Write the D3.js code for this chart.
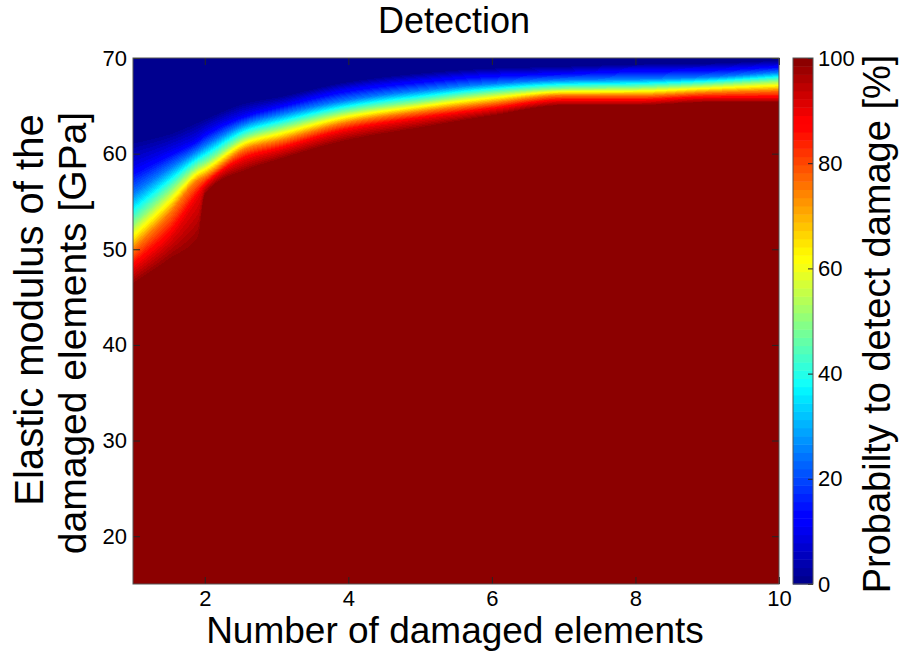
<!DOCTYPE html>
<html>
<head>
<meta charset="utf-8">
<script src="https://cdn.jsdelivr.net/npm/d3@7"></script>
<style>
    body { margin: 0; background: #fff; }
    svg text { font-family: "Liberation Sans", Arial, sans-serif; fill: #000; }
</style>
</head>
<body>
<svg id="chart" width="904" height="653"></svg>
<script>
// Detection probability map: number of damaged elements vs elastic modulus

// Positions along x (number of damaged elements) where the contour heights were read
const xRead = [1, 1.5, 1.9, 2, 2.6, 3, 4, 5, 6, 7, 8, 9, 10];

// Probability levels [%] and the elastic modulus [GPa] at which each level is reached
const probLevels = [0, 10, 25, 50, 75, 90, 100];
const modulusAt0   = [61.5, 62.3, 63.5, 63.8, 65.5, 66.0, 67.6, 68.5, 69.0, 69.2, 69.4, 69.5, 69.8];
const modulusAt10  = [58.5, 60.2, 61.6, 62.2, 64.2, 65.0, 66.8, 67.7, 68.3, 68.5, 68.8, 68.9, 69.2];
const modulusAt25  = [55.8, 58.4, 60.3, 60.8, 63.2, 64.0, 65.6, 66.6, 67.3, 67.7, 67.8, 68.0, 68.5];
const modulusAt50  = [52.6, 56.0, 58.6, 59.0, 61.8, 62.6, 64.4, 65.4, 66.3, 66.8, 66.9, 67.2, 67.6];
const modulusAt75  = [50.0, 53.7, 57.2, 57.6, 60.6, 61.3, 63.3, 64.4, 65.3, 66.1, 66.1, 66.4, 66.6];
const modulusAt90  = [48.0, 51.2, 55.5, 56.6, 59.5, 60.3, 62.4, 63.6, 64.6, 65.5, 65.5, 65.8, 65.8];
const modulusAt100 = [46.2, 48.6, 50.5, 55.6, 58.2, 59.2, 61.3, 62.6, 63.9, 65.0, 65.0, 65.3, 65.3];

// Axis ticks
const xTicks = [2, 4, 6, 8, 10];
const yTicks = [20, 30, 40, 50, 60, 70];
const cbTicks = [0, 20, 40, 60, 80, 100];

const contourRows = [modulusAt0, modulusAt10, modulusAt25, modulusAt50, modulusAt75, modulusAt90, modulusAt100];

const plot = { left: 133, right: 779, top: 58, bottom: 584 };
const cb = { left: 793, width: 20 };

const svg = d3.select('#chart');

const xScale = d3.scaleLinear().domain([1, 10]).range([plot.left, plot.right]);
const yScale = d3.scaleLinear().domain([15, 70]).range([plot.bottom, plot.top]);

// MATLAB style jet colormap, 64 steps
const jet = t => {
    const c = v => Math.max(0, Math.min(1, v));
    const r = c(Math.min(4 * t - 1.45, -4 * t + 4.55));
    const g = c(Math.min(4 * t - 0.5, -4 * t + 3.5));
    const b = c(Math.min(4 * t + 0.56, -4 * t + 2.5));
    return d3.rgb(r * 255, g * 255, b * 255);
};
const nColors = 64;
const jetColors = d3.range(nColors).map(i => jet(i / (nColors - 1)));
const colorScale = d3.scaleQuantize().domain([0, 100]).range(jetColors);

// monotone cubic (Fritsch-Carlson) slopes for each contour row, so the bands bend smoothly
const slopesOf = row => {
    const n = row.length;
    const d = d3.range(n - 1).map(i => (row[i + 1] - row[i]) / (xRead[i + 1] - xRead[i]));
    return d3.range(n).map(i => {
        if (i === 0) return d[0];
        if (i === n - 1) return d[n - 2];
        if (d[i - 1] * d[i] <= 0) return 0;
        const h0 = xRead[i] - xRead[i - 1], h1 = xRead[i + 1] - xRead[i];
        const w1 = 2 * h1 + h0, w2 = h1 + 2 * h0;
        return (w1 + w2) / (w1 / d[i - 1] + w2 / d[i]);
    });
};
const rowSlopes = contourRows.map(slopesOf);

// contour heights at a given x
const heightsAt = x => {
    let i = d3.bisectRight(xRead, x) - 1;
    i = Math.max(0, Math.min(xRead.length - 2, i));
    const h = xRead[i + 1] - xRead[i];
    const t = Math.max(0, Math.min(1, (x - xRead[i]) / h));
    const t2 = t * t, t3 = t2 * t;
    return contourRows.map((row, k) => {
        const m = rowSlopes[k];
        return (2 * t3 - 3 * t2 + 1) * row[i] + (t3 - 2 * t2 + t) * h * m[i]
            + (-2 * t3 + 3 * t2) * row[i + 1] + (t3 - t2) * h * m[i + 1];
    });
};

const probAt = (h, y) => {
    if (y >= h[0]) return 0;
    if (y <= h[h.length - 1]) return 100;
    for (let k = 0; k < h.length - 1; k++) {
        if (y <= h[k] && y >= h[k + 1]) {
            const t = (h[k] - y) / (h[k] - h[k + 1]);
            return probLevels[k] + (probLevels[k + 1] - probLevels[k]) * t;
        }
    }
    return 100;
};

// Render the field into a canvas, then place it in the svg
const cw = plot.right - plot.left;
const ch = plot.bottom - plot.top;
const canvas = document.createElement('canvas');
canvas.width = cw;
canvas.height = ch;
const ctx = canvas.getContext('2d');
const img = ctx.createImageData(cw, ch);
for (let px = 0; px < cw; px++) {
    const h = heightsAt(xScale.invert(plot.left + px + 0.5));
    for (let py = 0; py < ch; py++) {
        const p = probAt(h, yScale.invert(plot.top + py + 0.5));
        const col = colorScale(p);
        const idx = (py * cw + px) * 4;
        img.data[idx] = col.r;
        img.data[idx + 1] = col.g;
        img.data[idx + 2] = col.b;
        img.data[idx + 3] = 255;
    }
}
ctx.putImageData(img, 0, 0);

svg.append('image')
    .attr('x', plot.left)
    .attr('y', plot.top)
    .attr('width', cw)
    .attr('height', ch)
    .attr('preserveAspectRatio', 'none')
    .attr('href', canvas.toDataURL());

// Axes (inward ticks, box)
const tickColor = '#262626';
const styleAxis = g => {
    g.select('.domain').remove();
    g.selectAll('.tick line').attr('stroke', tickColor);
    g.selectAll('.tick text').style('font-size', '22px').attr('fill', '#000');
};

svg.append('g')
    .attr('transform', `translate(0,${plot.bottom})`)
    .call(d3.axisBottom(xScale).tickValues(xTicks).tickSizeInner(-7).tickSizeOuter(0).tickPadding(6))
    .call(styleAxis);

svg.append('g')
    .attr('transform', `translate(0,${plot.top})`)
    .call(d3.axisTop(xScale).tickValues(xTicks).tickSizeInner(-7).tickSizeOuter(0).tickFormat(''))
    .call(styleAxis);

svg.append('g')
    .attr('transform', `translate(${plot.left},0)`)
    .call(d3.axisLeft(yScale).tickValues(yTicks).tickSizeInner(-7).tickSizeOuter(0).tickPadding(6))
    .call(styleAxis);

svg.append('g')
    .attr('transform', `translate(${plot.right},0)`)
    .call(d3.axisRight(yScale).tickValues(yTicks).tickSizeInner(-7).tickSizeOuter(0).tickFormat(''))
    .call(styleAxis);

svg.append('rect')
    .attr('x', plot.left)
    .attr('y', plot.top)
    .attr('width', cw)
    .attr('height', ch)
    .attr('fill', 'none')
    .attr('stroke', '#555')
    .attr('stroke-width', 1);

// Colorbar
const cbScale = d3.scaleLinear().domain([0, 100]).range([plot.bottom, plot.top]);
const step = 100 / nColors;

svg.append('g')
    .selectAll('rect')
    .data(jetColors)
    .enter()
    .append('rect')
    .attr('x', cb.left)
    .attr('y', (d, i) => cbScale((i + 1) * step))
    .attr('width', cb.width)
    .attr('height', (d, i) => cbScale(i * step) - cbScale((i + 1) * step) + 0.5)
    .attr('fill', d => d);

svg.append('g')
    .attr('transform', `translate(${cb.left + cb.width},0)`)
    .call(d3.axisRight(cbScale).tickValues(cbTicks).tickSizeInner(-5).tickSizeOuter(0).tickPadding(5))
    .call(styleAxis);

svg.append('rect')
    .attr('x', cb.left)
    .attr('y', plot.top)
    .attr('width', cb.width)
    .attr('height', ch)
    .attr('fill', 'none')
    .attr('stroke', '#555')
    .attr('stroke-width', 1);

// Titles and labels
svg.append('text')
    .attr('x', 454)
    .attr('y', 33)
    .attr('text-anchor', 'middle')
    .style('font-size', '36px')
    .text('Detection');

svg.append('text')
    .attr('x', 455)
    .attr('y', 643)
    .attr('text-anchor', 'middle')
    .style('font-size', '37px')
    .text('Number of damaged elements');

svg.append('text')
    .attr('transform', 'translate(43,310) rotate(-90)')
    .attr('text-anchor', 'middle')
    .style('font-size', '40px')
    .text('Elastic modulus of the');

svg.append('text')
    .attr('transform', 'translate(86,333) rotate(-90)')
    .attr('text-anchor', 'middle')
    .style('font-size', '39px')
    .text('damaged elements [GPa]');

svg.append('text')
    .attr('transform', 'translate(890,324) rotate(-90)')
    .attr('text-anchor', 'middle')
    .style('font-size', '38px')
    .text('Probabilty to detect damage [%]');
</script>
</body>
</html>
